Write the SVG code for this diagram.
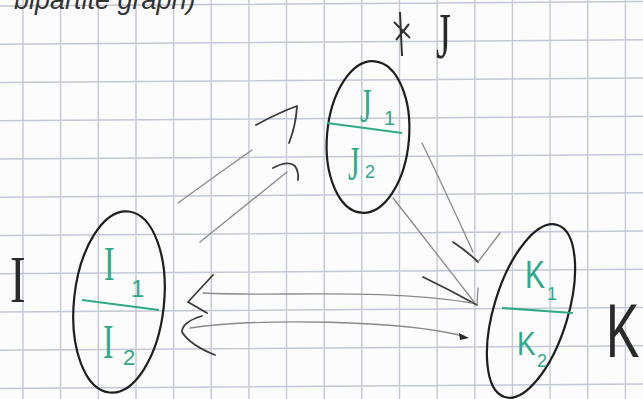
<svg xmlns="http://www.w3.org/2000/svg" width="643" height="399" viewBox="0 0 643 399">
<defs>
<style>
.grid{stroke:#c4c8d6;stroke-width:1.4;fill:none}
.ell{fill:none;stroke:#1e1e1e;stroke-width:2.2}
.div{stroke:#2eaa88;stroke-width:2.2;fill:none}
.g{fill:#2eaa88;font-family:"Liberation Serif",serif}
.gs{fill:#2eaa88;font-family:"Liberation Sans",sans-serif}
.lab{fill:#2a2a2a}
.shaft{fill:none;stroke:#8a8a8a;stroke-width:1.3;stroke-linecap:round}
.head{fill:none;stroke:#3a3a3a;stroke-width:1.8;stroke-linecap:round;stroke-linejoin:round}
</style>
</defs>
<rect width="643" height="399" fill="#fcfcfc"/>
<g id="grid">
<path class="grid" d="M0,6L643,1.5M0,44.25L643,39.75M0,82.5L643,78M0,120.75L643,116.25M0,159L643,154.5M0,197.25L643,192.75M0,235.5L643,231M0,273.75L643,269.25M0,312L643,307.5M0,350.25L643,345.75M0,388.5L643,384
M23,0V399M60.6,0V399M98.3,0V399M136,0V399M173.6,0V399M211.2,0V399M248.9,0V399M286.5,0V399M324.2,0V399M361.8,0V399M399.5,0V399M437.1,0V399M474.8,0V399M512.4,0V399M550.1,0V399M587.7,0V399M625.4,0V399"/>
</g>
<g id="heading">
<text x="14" y="9" font-family="Liberation Sans,sans-serif" font-size="27" fill="#333" font-style="italic">bipartite graph)</text>
</g>
<g id="node-I">
<ellipse class="ell" cx="119" cy="302" rx="45" ry="91" transform="rotate(6 119 302)"/>
<path class="div" d="M82,300L159,310"/>
<text class="g" transform="translate(104,280) scale(1,1.5)" font-size="32">I</text>
<text class="gs" x="131" y="297" font-size="24">1</text>
<text class="g" transform="translate(103,358) scale(1,1.5)" font-size="32">I</text>
<text class="gs" x="123" y="365" font-size="22">2</text>
<text class="lab" transform="translate(10,302) scale(1.3,1.9)" font-family="Liberation Serif,serif" font-size="36">I</text>
</g>
<g id="node-J">
<ellipse class="ell" cx="368" cy="137" rx="41" ry="76" transform="rotate(5 368 137)"/>
<path class="div" d="M327,123L402,133"/>
<text class="g" transform="translate(360,122) scale(1,1.6)" font-size="30">J</text>
<text class="gs" x="384" y="125" font-size="20">1</text>
<text class="g" transform="translate(348,180) scale(1,1.6)" font-size="30">J</text>
<text class="gs" x="365" y="178" font-size="18">2</text>
<text class="lab" transform="translate(436,58) scale(1,1.7)" font-family="Liberation Serif,serif" font-size="38">J</text>
<path fill="none" stroke="#333" stroke-width="2" d="M400,12L402,56M394,22L410,38M396,40L409,24"/>
</g>
<g id="node-K">
<ellipse class="ell" cx="531" cy="311" rx="37" ry="90" transform="rotate(17 531 311)"/>
<path class="div" d="M502,308L573,313"/>
<text class="gs" transform="translate(525,288) scale(1,1.3)" font-size="30">K</text>
<text class="gs" x="547" y="300" font-size="18">1</text>
<text class="gs" transform="translate(517,355) scale(1,1.2)" font-size="28">K</text>
<text class="gs" x="537" y="367" font-size="18">2</text>
<text class="lab" transform="translate(606,357) scale(1.25,1.9)" font-family="Liberation Sans,sans-serif" font-size="40">K</text>
</g>
<g id="connectors">
<path class="shaft" d="M178,203Q215,176 252,150"/>
<path class="head" d="M256,125Q280,112 297,106Q296,125 289,143"/>
<path class="shaft" d="M200,242L287,172"/>
<path class="head" d="M273,168Q288,160 295,166Q299,172 298,180"/>
<path class="shaft" d="M422,143Q445,190 473,252"/>
<path class="head" d="M453,242Q468,252 478,262"/>
<path class="shaft" d="M478,262L500,233"/>
<path class="shaft" d="M393,198Q430,245 474,302"/>
<path class="head" d="M423,277Q450,290 477,305"/>
<path class="shaft" d="M477,305L478,288"/>
<path class="shaft" d="M203,293C280,297 380,288 472,303"/>
<path class="head" d="M213,275L188,302L207,313"/>
<path class="shaft" d="M190,328C260,318 400,320 463,336"/>
<path class="head" d="M202,316Q182,322 182,332Q190,345 215,355"/>
<path fill="#2a2a2a" d="M459,333L469,338L460,340Z"/>
</g>
</svg>
